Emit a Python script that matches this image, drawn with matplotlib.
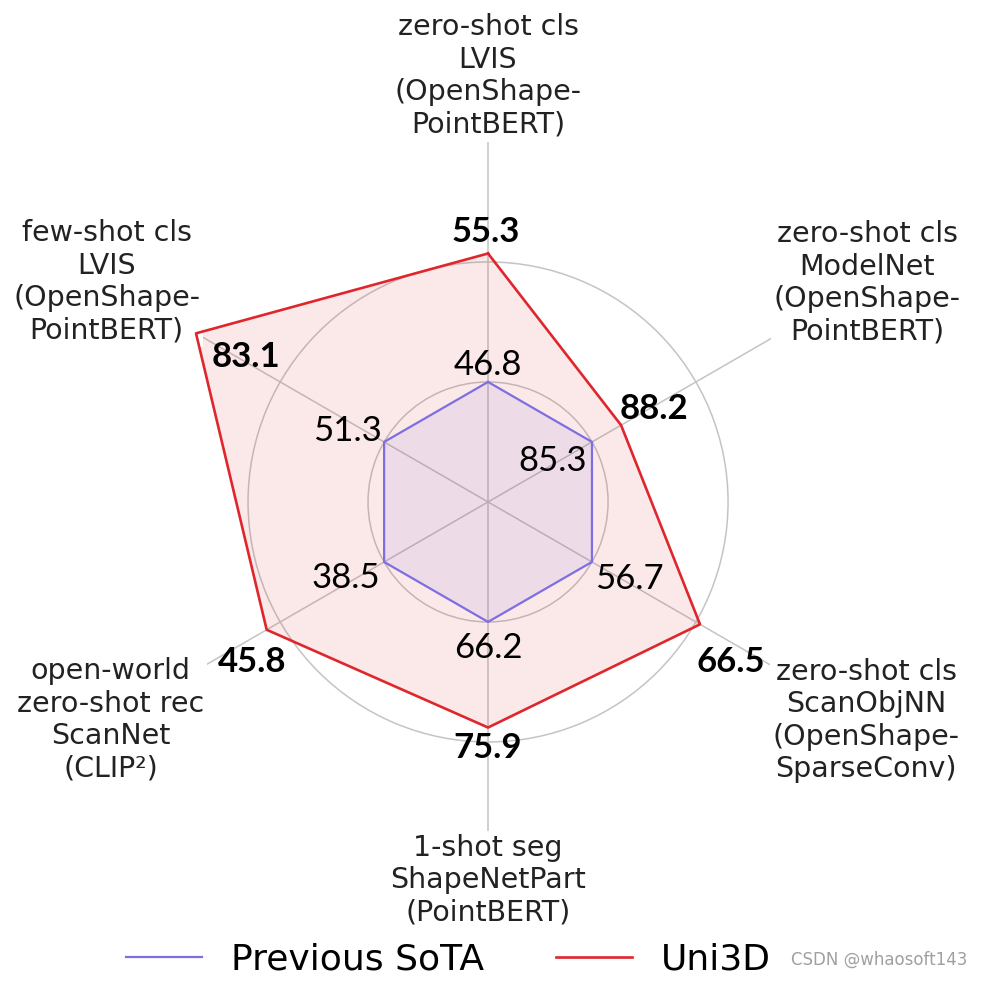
import numpy as np
import matplotlib
matplotlib.use("Agg")
import matplotlib.pyplot as plt

# Benchmarks, clockwise from the top
categories = [
    "zero-shot cls\nLVIS\n(OpenShape-\nPointBERT)",
    "zero-shot cls\nModelNet\n(OpenShape-\nPointBERT)",
    "zero-shot cls\nScanObjNN\n(OpenShape-\nSparseConv)",
    "1-shot seg\nShapeNetPart\n(PointBERT)",
    "open-world\nzero-shot rec\nScanNet\n(CLIP\u00b2)",
    "few-shot cls\nLVIS\n(OpenShape-\nPointBERT)",
]
previous_sota = [46.8, 85.3, 56.7, 66.2, 38.5, 51.3]
uni3d = [55.3, 88.2, 66.5, 75.9, 45.8, 83.1]

# Per-benchmark axis ranges (value at centre, value at the outer rim)
axis_lo = [38.86, 74.94, 47.28, 55.18, 32.04, 33.73]
axis_hi = [62.68, 106.02, 75.55, 88.25, 51.42, 86.44]

RMAX = 3.0


def to_radius(values):
    v = np.asarray(values, float)
    lo = np.asarray(axis_lo)
    hi = np.asarray(axis_hi)
    return RMAX * (v - lo) / (hi - lo)


n = len(categories)
angles = np.deg2rad(np.arange(n) * 360.0 / n)

fig = plt.figure(figsize=(9.81, 9.85), dpi=100)
ax = fig.add_axes([0.1305, 0.1249, 0.734, 0.731], projection="polar")
ax.set_theta_offset(np.pi / 2)
ax.set_theta_direction(-1)
ax.set_ylim(0, RMAX)
ax.set_yticks([1, 2])
ax.set_yticklabels([])
ax.set_xticks(angles)
ax.set_xticklabels([])
ax.grid(True, color="#c4c4c4", linewidth=1.1)
ax.spines["polar"].set_visible(False)
ax.set_facecolor("none")

blue = "#7d6fe2"
red = "#e0262d"

r_uni = to_radius(uni3d)
r_prev = to_radius(previous_sota)
th = np.append(angles, angles[0])

ax.fill(th, np.append(r_uni, r_uni[0]), color=red, alpha=0.10, zorder=2)
ax.plot(th, np.append(r_uni, r_uni[0]), color=red, linewidth=1.9, zorder=4,
        label="Uni3D")
ax.fill(th, np.append(r_prev, r_prev[0]), color=blue, alpha=0.10, zorder=3)
ax.plot(th, np.append(r_prev, r_prev[0]), color=blue, linewidth=1.6, zorder=4,
        label="Previous SoTA")

# Benchmark names around the rim
label_r = [3.55, 3.65, 3.64, 3.15, 3.63, 3.67]
for a, r, txt in zip(angles, label_r, categories):
    ax.text(a, r, txt, ha="center", va="center", fontsize=20.5,
            color="#222222", linespacing=1.2, family="DejaVu Sans",
            bbox=dict(facecolor="white", edgecolor="none", pad=2.0),
            zorder=3.5)

# Value annotations (pixel offsets from each vertex)
prev_off = [(0, 17), (-39, -19), (37, -17), (0, -26), (-38, -16), (-37, 11)]
uni_off = [(-2, 21), (33, 16), (31, -38), (0, -20), (-15, -32), (50, -24)]
for a, r, v, off in zip(angles, r_prev, previous_sota, prev_off):
    ax.annotate(f"{v:.1f}", xy=(a, r), xytext=off, textcoords="offset pixels",
                ha="center", va="center", fontsize=25, family="Lato",
                color="black", zorder=6)
for a, r, v, off in zip(angles, r_uni, uni3d, uni_off):
    ax.annotate(f"{v:.1f}", xy=(a, r), xytext=off, textcoords="offset pixels",
                ha="center", va="center", fontsize=25, family="Lato",
                fontweight="bold", color="black", zorder=6)

handles, labels = ax.get_legend_handles_labels()
order = [labels.index("Previous SoTA"), labels.index("Uni3D")]
fig.legend([handles[i] for i in order], [labels[i] for i in order],
           loc="center", bbox_to_anchor=(0.457, 0.026), ncol=2, frameon=False,
           prop=dict(family="DejaVu Sans", size=26), handlelength=2.1,
           handletextpad=0.8, columnspacing=2.0)

fig.text(0.986, 0.026, "CSDN @whaosoft143", ha="right", va="center",
         fontsize=12, color="#a0a0a0")

fig.savefig("out.png", dpi=100, facecolor="white")
